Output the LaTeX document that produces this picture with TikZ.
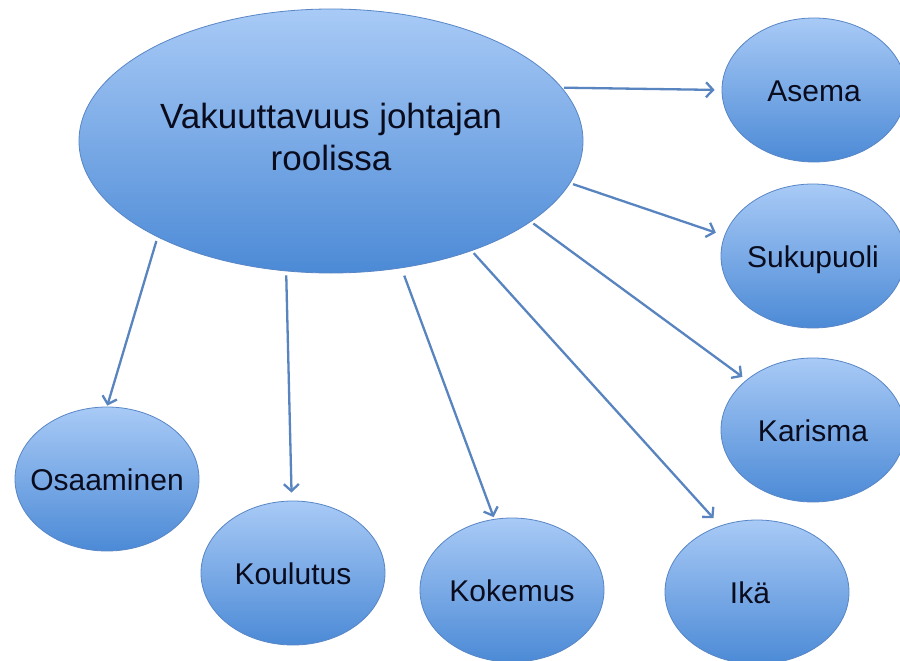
\documentclass[tikz,border=0pt]{standalone}
\usepackage{fontspec}
\setmainfont{Liberation Sans}
\usetikzlibrary{shapes.geometric,arrows.meta}
\definecolor{bubtop}{RGB}{168,202,246}
\definecolor{bubbot}{RGB}{76,138,214}
\definecolor{bubedge}{RGB}{88,134,198}
\definecolor{arrowc}{RGB}{88,132,192}
\definecolor{txt}{RGB}{10,12,30}
\begin{document}
\begin{tikzpicture}[x=1pt,y=-1pt,
  shell/.style={ellipse, draw=bubedge, line width=0.8pt,
    top color=bubtop, bottom color=bubbot, inner sep=0pt, text=txt},
  bubble/.style={shell, minimum width=184pt, minimum height=144pt,
    font=\fontsize{30}{36}\selectfont,
    text height=22pt, text depth=0pt},
  mainbub/.style={shell, minimum width=504pt, minimum height=264pt,
    font=\fontsize{35}{42}\selectfont, align=center, text depth=9pt},
  conn/.style={draw=arrowc, line width=2.3pt,
    -{Straight Barb[length=7pt,width=15pt]}}]
\useasboundingbox[fill=white] (0,0) rectangle (900,661);

\node[mainbub] (main) at (331,141) {Vakuuttavuus johtajan\\roolissa};

\node[bubble] (asema) at (814,90)  {\makebox[0pt]{Asema}};
\node[bubble] (suku)  at (813,256) {\makebox[0pt]{Sukupuoli}};
\node[bubble] (kar)   at (813,430) {\makebox[0pt]{Karisma}};
\node[bubble] (ika)   at (757,592) {\makebox[0pt]{Ikä\hspace{14pt}}};
\node[bubble] (kok)   at (512,590) {\makebox[0pt]{Kokemus}};
\node[bubble] (kou)   at (293,573) {\makebox[0pt]{Koulutus}};
\node[bubble] (osa)   at (107,479) {\makebox[0pt]{Osaaminen}};

\draw[conn, shorten <=2pt, shorten >=7pt]  (main.13)   -- (asema.180);
\draw[conn, shorten <=3pt, shorten >=9pt]  (main.-10)  -- (suku.167);
\draw[conn, shorten <=3pt, shorten >=5pt]  (main.-22)  -- (kar.143);
\draw[conn, shorten <=3pt, shorten >=10pt] (main.-38)  -- (ika.119);
\draw[conn, shorten <=8pt, shorten >=2pt]  (main.-61)  -- (kok.104);
\draw[conn, shorten <=4pt, shorten >=8pt]  (main.-109) -- (kou.91);
\draw[conn, shorten <=4pt, shorten >=1pt]  (main.-151) -- (osa.90);
\end{tikzpicture}
\end{document}
